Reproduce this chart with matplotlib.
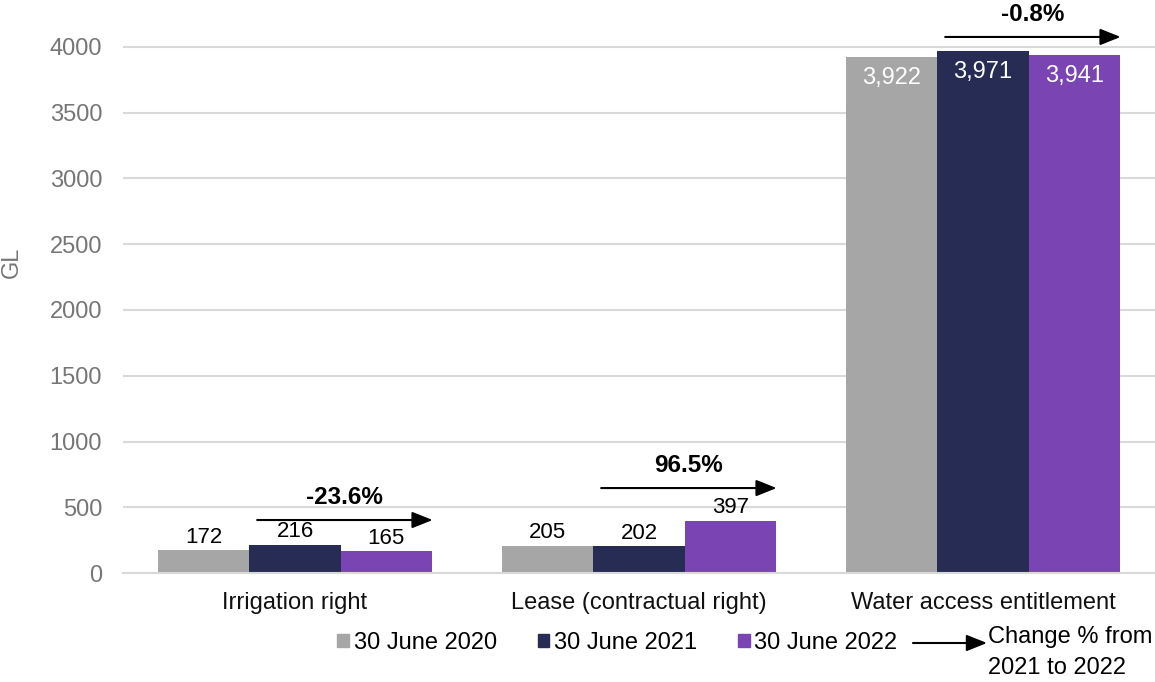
import matplotlib.pyplot as plt
import numpy as np
from matplotlib.patches import Patch, FancyArrowPatch

plt.rcParams['font.family'] = ['Liberation Sans', 'DejaVu Sans']

categories = ['Irrigation right', 'Lease (contractual right)', 'Water access entitlement']
series = ['30 June 2020', '30 June 2021', '30 June 2022']
v2020 = [172, 205, 3922]
v2021 = [216, 202, 3971]
v2022 = [165, 397, 3941]
colors = ['#A6A6A6', '#262C54', '#7A44B2']

# heights where the change arrows sit
arrow_y = [403, 646, 4076]

ARROW = '-|>,head_length=1.25,head_width=0.5'

fig = plt.figure(figsize=(11.55, 6.82), dpi=100)
ax = fig.add_axes([0.1065, 0.1598, 0.8935, 0.8292])

x = np.arange(len(categories))
w = 0.265
values = [v2020, v2021, v2022]
for k, (vals, col) in enumerate(zip(values, colors)):
    bars = ax.bar(x + (k - 1) * w, vals, w, color=col, label=series[k], zorder=2)
    for b, v in zip(bars, vals):
        cx = b.get_x() + b.get_width() / 2
        if v > 1000:
            ax.annotate(f'{v:,}', (cx, v), xytext=(0, -15), textcoords='offset points',
                        ha='center', va='center', color='white', fontsize=17)
        else:
            ax.annotate(f'{v:,}', (cx, v), xytext=(0, 2), textcoords='offset points',
                        ha='center', va='bottom', color='black', fontsize=16)

# change 2021 -> 2022
for i in range(len(categories)):
    pct = (v2022[i] - v2021[i]) / v2021[i] * 100
    x0, x1 = i - 0.11, i + 0.40
    ax.annotate('', xy=(x1, arrow_y[i]), xytext=(x0, arrow_y[i]),
                arrowprops=dict(arrowstyle=ARROW, color='black', lw=1.5,
                                shrinkA=0, shrinkB=0, mutation_scale=10))
    ax.annotate(f'{pct:.1f}%', ((x0 + x1) / 2, arrow_y[i]), xytext=(0, 8),
                textcoords='offset points', ha='center', va='bottom',
                fontsize=17.5, fontweight='bold')

ax.set_xlim(-0.5, 2.5)
ax.set_ylim(0, 4300)
ax.set_yticks(np.arange(0, 4001, 500))
ax.set_xticks(x)
ax.set_xticklabels(categories, fontsize=17, color='#111111')
ax.tick_params(axis='x', length=0, pad=14)
ax.tick_params(axis='y', length=0, pad=15, labelsize=17, labelcolor='#767676')
ax.grid(axis='y', color='#D9D9D9', lw=1.5, zorder=0)
for s in ['top', 'right', 'left']:
    ax.spines[s].set_visible(False)
ax.spines['bottom'].set_color('#D9D9D9')
ax.spines['bottom'].set_linewidth(1.5)
ax.set_ylabel('GL', fontsize=17, color='#767676')
ax.yaxis.set_label_coords(-0.097, 0.55)

handles = [Patch(color=c) for c in colors]
fig.legend(handles, series, loc='center left', bbox_to_anchor=(0.292, 0.057),
           ncol=3, frameon=False, fontsize=17, handlelength=0.5, handleheight=0.5,
           handletextpad=0.2, columnspacing=1.72, borderpad=0, borderaxespad=0)

fig.patches.append(FancyArrowPatch(
    (913 / 1155, 1 - 643 / 682), (987 / 1155, 1 - 643 / 682), transform=fig.transFigure,
    arrowstyle=ARROW, color='black', lw=1.5, shrinkA=0, shrinkB=0, mutation_scale=10))
fig.text(988 / 1155, 1 - 637 / 682, 'Change % from', fontsize=17, va='center', ha='left')
fig.text(988 / 1155, 1 - 668 / 682, '2021 to 2022', fontsize=17, va='center', ha='left')

fig.savefig('out.png', dpi=100)
